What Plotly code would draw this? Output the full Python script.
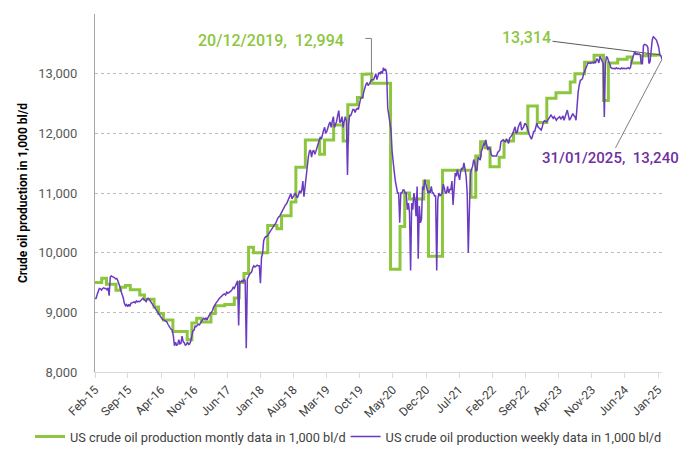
import pandas as pd
import plotly.graph_objects as go

# ---------------- data ----------------
# Monthly US crude oil production (1,000 bl/d), one value per month, Feb-2015 .. Feb-2025 step positions
monthly_2015_2016 = [9500, 9500, 9570, 9470, 9470, 9370, 9420, 9450, 9380, 9380, 9290, 9220,
                     9220, 9090, 8980, 8870, 8870, 8680, 8680, 8680, 8540, 8820, 8900, 8840]
monthly_2017_2018 = [8840, 8980, 9110, 9110, 9130, 9130, 9240, 9500, 9650, 10090, 10000, 10000,
                     10000, 10455, 10455, 10400, 10620, 10620, 10850, 11430, 11430, 11890, 11890, 11890]
monthly_2019_2020 = [11650, 11890, 11890, 12140, 12140, 11870, 12480, 12480, 12600, 12990, 12994, 12840,
                     12840, 12840, 12840, 9720, 9720, 10440, 11000, 10900, 10900, 10900, 11200, 9940]
monthly_2021_2022 = [9940, 9940, 11380, 11380, 11380, 11380, 11380, 11380, 10930, 11620, 11860, 11760,
                     11440, 11440, 11600, 11870, 11870, 12000, 12000, 12000, 12460, 12460, 12180, 12180]
monthly_2023_2025 = [12590, 12590, 12680, 12680, 12680, 12860, 13000, 13000, 13190, 13190, 13310, 13310,
                     12550, 13180, 13180, 13240, 13240, 13280, 13180, 13180, 13300, 13310, 13310, 13314,
                     13314]

# Weekly US crude oil production (1,000 bl/d), Fridays from 06/02/2015 to 31/01/2025
weekly_2015 = [9230, 9235, 9300, 9366, 9400, 9394, 9373, 9400, 9411, 9398, 9400, 9380, 9410, 9280,
               9590, 9610, 9604, 9595, 9580, 9560, 9567, 9530, 9490, 9420, 9350, 9300, 9240, 9150,
               9110, 9130, 9096, 9135, 9100, 9150, 9162, 9170, 9175, 9160, 9190, 9175, 9185, 9179,
               9200, 9220, 9235, 9220, 9200, 9180, 9227]
weekly_2016 = [9235, 9215, 9180, 9150, 9122, 9100, 9077, 9048, 9030, 8990, 8970, 8938, 8907, 8880,
               8873, 8860, 8850, 8840, 8800, 8760, 8740, 8715, 8700, 8600, 8440, 8500, 8450, 8460,
               8540, 8470, 8480, 8600, 8510, 8490, 8450, 8460, 8500, 8460, 8470, 8520, 8600, 8690,
               8700, 8770, 8760, 8780, 8800, 8790, 8830, 8860, 8880, 8900]
weekly_2017 = [8880, 8910, 8870, 8920, 8960, 8980, 9000, 9030, 9090, 9110, 9150, 9170, 9200, 9230,
               9250, 9270, 9290, 9300, 9310, 9290, 9340, 9320, 9330, 9340, 9360, 9380, 9420, 9400,
               9450, 9500, 9530, 8780, 9520, 9510, 9530, 9510, 9550, 9530, 8400, 9560, 9620, 9640,
               9660, 9680, 9750, 9780, 9760, 9780, 9790, 9780, 9780, 9490, 9920]
weekly_2018 = [9990, 10200, 10250, 10270, 10270, 10300, 10340, 10370, 10380, 10410, 10460, 10470,
               10490, 10540, 10580, 10600, 10620, 10660, 10700, 10720, 10770, 10800, 10820, 10860,
               10900, 10950, 10990, 10900, 10940, 10990, 11000, 10950, 10920, 10970, 11040, 11000,
               11050, 11200, 10940, 11100, 11300, 11500, 11600, 11700, 11720, 11600, 11700, 11710,
               11650, 11700, 11770, 11800, 11900, 11940]
weekly_2019 = [11900, 12000, 12050, 12100, 12000, 12030, 12100, 12150, 12190, 12100, 12200, 12280,
               12100, 12150, 12200, 12300, 12380, 12180, 12200, 12280, 12100, 12200, 12280, 12200,
               11300, 12150, 12300, 12300, 12350, 12400, 12400, 12350, 12400, 12420, 12400, 12500,
               12580, 12600, 12600, 12700, 12790, 12820, 12850, 12800, 12830, 12860, 12900, 12900,
               12900, 12950, 13000, 12900]
weekly_2020 = [12980, 13020, 13000, 13040, 13000, 13100, 13050, 13080, 13000, 12420, 12300, 12200,
               12050, 11700, 11450, 11350, 11200, 11100, 11000, 11000, 10500, 11000, 11000, 11050,
               11050, 11000, 11000, 10720, 10830, 10670, 9700, 10830, 10720, 11000, 10890, 10610,
               11110, 9900, 10780, 10500, 10560, 11110, 11050, 11224, 11140, 11030, 11000, 11030,
               11000, 11110, 11000, 11000, 10950, 10950, 9700, 10890, 11000, 10950, 10970, 11000,
               11150, 11060, 11000, 11000, 11110, 11000, 11060, 11060, 11200, 10800, 11110, 11336,
               11280, 11390, 11300, 11220, 11360, 11420, 11400, 11504, 11400, 11280, 11000, 10000,
               10700, 11330, 11400, 11450, 11560, 11500]
weekly_2021_2022 = [11370, 11380, 11600, 11560, 11550, 11700, 11740, 11830, 11800, 11890,
                    11780, 11720, 11760, 11750, 11650, 11620, 11620, 11620, 11630, 11620,
                    11680, 11700, 11720, 11860, 11870, 11890, 11870, 11860, 11900, 11880,
                    11830, 11920, 11940, 11970, 12000, 12055, 12110, 12000, 12020, 12110,
                    12150, 12195, 12055, 12080, 12110, 12170, 12150, 12110, 12030, 11980,
                    11940, 11900, 11950, 12030, 12030, 12100, 12170, 12110, 12090, 12080]
weekly_2023 = [12055, 12110, 12190, 12210, 12200, 12190, 12220, 12250, 12280, 12307,
               12280, 12250, 12280, 12250, 12220, 12250, 12270, 12280, 12235, 12260,
               12290, 12220, 12280, 12360, 12390, 12300, 12220, 12250, 12290, 12330,
               12300, 12280, 12220, 12500, 12700, 12810, 12890, 12900, 12920, 13000,
               13050, 13115, 13150, 13180, 13180, 13170, 13180, 13190, 13180, 13200,
               13180, 13250, 13230, 13180]
weekly_2024_2025 = [13290, 13240, 13200, 13167, 12274, 13167, 13290, 13260, 13200, 13167,
                    13100, 13083, 13083, 13090, 13080, 13100, 13083, 13090, 13083, 13080,
                    13095, 13083, 13090, 13085, 13083, 13090, 13100, 13083,
                    13100, 13200, 13250, 13317, 13370, 13317, 13340, 13320, 13330, 13317,
                    13170, 13170, 13474, 13490, 13480, 13474, 13440, 13170, 13200, 13474,
                    13560, 13625, 13600, 13590, 13560, 13500, 13440, 13317, 13300, 13240]

monthly_values = (monthly_2015_2016 + monthly_2017_2018 + monthly_2019_2020
                  + monthly_2021_2022 + monthly_2023_2025)
weekly_values = (weekly_2015 + weekly_2016 + weekly_2017 + weekly_2018 + weekly_2019
                 + weekly_2020 + weekly_2021_2022 + weekly_2023 + weekly_2024_2025)

monthly_dates = pd.date_range("2015-01-21", periods=len(monthly_values), freq=pd.DateOffset(months=1))
weekly_dates = pd.date_range("2015-02-06", periods=len(weekly_values), freq="7D")

series_names = ["US crude oil production montly data in 1,000 bl/d",
                "US crude oil production weekly data in 1,000 bl/d"]
peak_label = ("2019-12-20", 12994)
last_monthly_label = 13314
last_weekly_label = ("2025-01-31", 13240)

GREEN = "#8CC63F"
PURPLE = "#6A3BC0"
FONT = "Roboto"

# ---------------- figure ----------------
fig = go.Figure()
fig.add_trace(go.Scatter(x=monthly_dates, y=monthly_values, mode="lines", name=series_names[0],
                         line=dict(color=GREEN, width=3, shape="hv"), legend="legend"))
fig.add_trace(go.Scatter(x=weekly_dates, y=weekly_values, mode="lines", name=series_names[1],
                         line=dict(color=PURPLE, width=1.5), legend="legend2"))

legend_style = dict(orientation="h", xanchor="left", y=-0.181, yanchor="middle",
                    font=dict(size=12.75, color="#404040"), bgcolor="rgba(0,0,0,0)",
                    itemwidth=30)

fig.update_layout(
    width=700, height=457,
    margin=dict(l=87, r=46, t=6, b=93, autoexpand=False),
    paper_bgcolor="white", plot_bgcolor="white",
    font=dict(family=FONT, size=12, color="#404040"),
    legend=dict(x=-0.1146, **legend_style),
    legend2=dict(x=0.442, **legend_style),
    showlegend=True,
)

fig.update_xaxes(
    type="date", range=["2015-02-06", "2025-01-31"],
    tick0="2015-02-06", dtick="M7", tickformat="%b-%y", tickangle=-45,
    ticks="outside", ticklen=5, tickcolor="#D9D9D9",
    showline=True, linecolor="#D9D9D9", linewidth=1,
    showgrid=False, zeroline=False, automargin=False,
    tickfont=dict(size=12, color="#404040"),
)
fig.update_yaxes(
    range=[8000, 14000], dtick=1000, tickformat=",",
    showgrid=True, gridcolor="#BDBDBD", griddash="dot", gridwidth=1,
    showline=True, linecolor="#A6A6A6", linewidth=1,
    zeroline=False, ticks="", ticklabelstandoff=14, automargin=False,
    tickfont=dict(size=13, color="#595959"),
    title=dict(text="<b>Crude oil production in 1,000 bl/d</b>", standoff=8,
               font=dict(size=12, color="#000000")),
)

# annotations
fig.add_annotation(x=peak_label[0], y=peak_label[1],
                   text=f"{pd.Timestamp(peak_label[0]).strftime('%d/%m/%Y')},  {peak_label[1]:,}",
                   showarrow=False, xshift=-100, yshift=34,
                   font=dict(size=16, color=GREEN, family=FONT, weight=500))
fig.add_shape(type="line", xref="x", yref="y",
              x0=peak_label[0], x1=peak_label[0], y0=peak_label[1], y1=13590,
              line=dict(color="#7F7F7F", width=1))
fig.add_shape(type="line", xref="x", yref="y",
              x0="2019-11-10", x1=peak_label[0], y0=13590, y1=13590,
              line=dict(color="#7F7F7F", width=1))

fig.add_annotation(x=monthly_dates[-1].strftime("%Y-%m-%d"), y=last_monthly_label,
                   text=f"{last_monthly_label:,}",
                   showarrow=True, arrowhead=0, arrowwidth=1, arrowcolor="#595959",
                   ax=-134, ay=-17, standoff=0,
                   font=dict(size=16, color=GREEN, family=FONT, weight=500))
fig.add_annotation(x=last_weekly_label[0], y=last_weekly_label[1],
                   text=f"{pd.Timestamp(last_weekly_label[0]).strftime('%d/%m/%Y')},  {last_weekly_label[1]:,}",
                   showarrow=True, arrowhead=0, arrowwidth=1, arrowcolor="#7F7F7F",
                   ax=-52, ay=99, standoff=0,
                   font=dict(size=15, color="#7030A0", family=FONT, weight=500))

fig.write_html("out.html")
